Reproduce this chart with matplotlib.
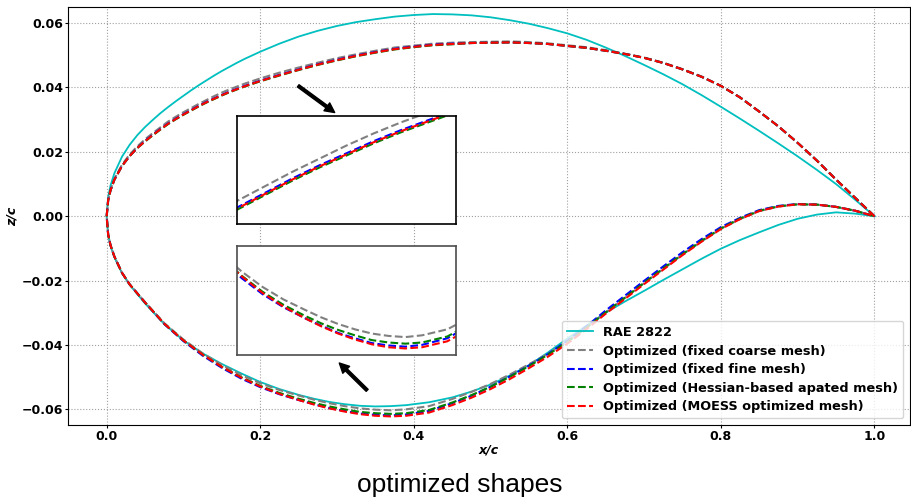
import numpy as np
import matplotlib.pyplot as plt

# chord stations (upper / lower surface)
x_upper = [0.0, 0.002, 0.005, 0.01, 0.02, 0.03, 0.04, 0.05, 0.06, 0.07, 0.08, 0.09,
           0.10, 0.11, 0.12, 0.13, 0.14, 0.15, 0.16, 0.17, 0.18, 0.19, 0.20,
           0.225, 0.25, 0.275, 0.30, 0.325, 0.35, 0.375, 0.40, 0.425, 0.45, 0.475,
           0.50, 0.525, 0.55, 0.575, 0.60, 0.625, 0.65, 0.675, 0.70, 0.725, 0.75,
           0.775, 0.80, 0.825, 0.85, 0.875, 0.90, 0.925, 0.95, 0.975, 1.0]
x_lower = [0.0, 0.002, 0.005, 0.01, 0.02, 0.03, 0.05, 0.075, 0.10, 0.125, 0.15,
           0.175, 0.20, 0.225, 0.25, 0.27, 0.29, 0.31, 0.33, 0.35, 0.37, 0.39,
           0.42, 0.45, 0.475, 0.50, 0.525, 0.55, 0.575, 0.60, 0.625, 0.65, 0.675,
           0.70, 0.725, 0.75, 0.775, 0.80, 0.825, 0.85, 0.875, 0.90, 0.925, 0.95,
           0.975, 1.0]

# RAE 2822
rae_upper = [0.0, 0.0060, 0.0095, 0.0133, 0.0185, 0.0222, 0.0252, 0.0277, 0.0299,
             0.0320, 0.0339, 0.0357, 0.0374, 0.0391, 0.0407, 0.0422, 0.0437, 0.0451,
             0.0464, 0.0477, 0.0489, 0.0500, 0.0511,
             0.0536, 0.0558, 0.0576, 0.0591, 0.0603, 0.0612, 0.0620, 0.0625, 0.0628,
             0.0627, 0.0624, 0.0618, 0.0609, 0.0598, 0.0584, 0.0568, 0.0548, 0.0524,
             0.0498, 0.0470, 0.0441, 0.0410, 0.0376, 0.0340, 0.0303, 0.0265, 0.0226,
             0.0186, 0.0144, 0.0100, 0.0051, 0.0]
rae_lower = [0.0, -0.0058, -0.0092, -0.0127, -0.0177, -0.0213, -0.0271, -0.0335,
             -0.0386, -0.0426, -0.0459, -0.0488, -0.0515, -0.0537, -0.0555, -0.0567,
             -0.0577, -0.0584, -0.0589, -0.0591, -0.0590, -0.0587, -0.0578, -0.0563,
             -0.0545, -0.0523, -0.0495, -0.0463, -0.0423, -0.0380, -0.0340, -0.0300,
             -0.0265, -0.0232, -0.0198, -0.0165, -0.0132, -0.0101, -0.0074, -0.0050,
             -0.0027, -0.0008, 0.0005, 0.0012, 0.0008, 0.0]

# optimized (fixed coarse mesh)
coarse_upper = [0.0, 0.0051, 0.0082, 0.0116, 0.0160, 0.0192, 0.0217, 0.0239, 0.0258,
                0.0276, 0.0294, 0.0309, 0.0323, 0.0336, 0.0349, 0.0361, 0.0373, 0.0384,
                0.0394, 0.0403, 0.0412, 0.0420, 0.0428,
                0.0446, 0.0462, 0.0477, 0.0491, 0.0503, 0.0514, 0.0524, 0.0530, 0.0536,
                0.0539, 0.0541, 0.0542, 0.0543, 0.0541, 0.0537, 0.0531, 0.0525, 0.0516,
                0.0505, 0.0493, 0.0477, 0.0457, 0.0434, 0.0405, 0.0369, 0.0325, 0.0279,
                0.0228, 0.0173, 0.0114, 0.0057, 0.0]
coarse_lower = [0.0, -0.0058, -0.0090, -0.0125, -0.0176, -0.0212, -0.0267, -0.0332,
                -0.0383, -0.0426, -0.0462, -0.0493, -0.0519, -0.0540, -0.0557, -0.0570,
                -0.0581, -0.0590, -0.0597, -0.0601, -0.0603, -0.0600, -0.0590, -0.0568,
                -0.0546, -0.0521, -0.0492, -0.0460, -0.0427, -0.0389, -0.0346, -0.0299,
                -0.0254, -0.0208, -0.0164, -0.0119, -0.0078, -0.0039, -0.0009, 0.0016,
                0.0030, 0.0037, 0.0036, 0.0029, 0.0017, 0.0]

# optimized (fixed fine mesh)
fine_upper = [0.0, 0.0050, 0.0080, 0.0113, 0.0156, 0.0187, 0.0212, 0.0234, 0.0253,
              0.0271, 0.0288, 0.0303, 0.0317, 0.0330, 0.0343, 0.0355, 0.0366, 0.0377,
              0.0387, 0.0396, 0.0405, 0.0413, 0.0421,
              0.0439, 0.0456, 0.0472, 0.0486, 0.0499, 0.0510, 0.0520, 0.0527, 0.0533,
              0.0536, 0.0538, 0.0539, 0.0540, 0.0538, 0.0535, 0.0529, 0.0523, 0.0514,
              0.0504, 0.0492, 0.0476, 0.0456, 0.0433, 0.0405, 0.0369, 0.0325, 0.0279,
              0.0228, 0.0173, 0.0114, 0.0057, 0.0]
fine_lower = [0.0, -0.0058, -0.0090, -0.0125, -0.0176, -0.0212, -0.0268, -0.0335,
              -0.0388, -0.0433, -0.0471, -0.0504, -0.0531, -0.0553, -0.0571, -0.0584,
              -0.0596, -0.0605, -0.0613, -0.0617, -0.0619, -0.0616, -0.0605, -0.0581,
              -0.0558, -0.0530, -0.0498, -0.0464, -0.0428, -0.0387, -0.0342, -0.0293,
              -0.0247, -0.0201, -0.0156, -0.0112, -0.0071, -0.0034, -0.0005, 0.0019,
              0.0032, 0.0038, 0.0036, 0.0029, 0.0017, 0.0]

# optimized (Hessian-based adapted mesh)
hess_upper = [0.0, 0.0050, 0.0080, 0.0113, 0.0156, 0.0187, 0.0212, 0.0232, 0.0251,
              0.0269, 0.0286, 0.0301, 0.0315, 0.0328, 0.0341, 0.0353, 0.0364, 0.0375,
              0.0385, 0.0394, 0.0403, 0.0411, 0.0419,
              0.0437, 0.0454, 0.0470, 0.0484, 0.0497, 0.0508, 0.0518, 0.0525, 0.0531,
              0.0534, 0.0538, 0.0539, 0.0540, 0.0538, 0.0535, 0.0529, 0.0523, 0.0514,
              0.0504, 0.0492, 0.0476, 0.0456, 0.0433, 0.0405, 0.0369, 0.0325, 0.0279,
              0.0228, 0.0173, 0.0114, 0.0057, 0.0]
hess_lower = [0.0, -0.0058, -0.0090, -0.0125, -0.0176, -0.0212, -0.0268, -0.0334,
              -0.0386, -0.0430, -0.0468, -0.0500, -0.0527, -0.0549, -0.0567, -0.0580,
              -0.0591, -0.0600, -0.0608, -0.0612, -0.0614, -0.0612, -0.0602, -0.0579,
              -0.0556, -0.0530, -0.0499, -0.0466, -0.0430, -0.0391, -0.0346, -0.0299,
              -0.0253, -0.0207, -0.0162, -0.0118, -0.0076, -0.0038, -0.0007, 0.0017,
              0.0031, 0.0037, 0.0036, 0.0029, 0.0017, 0.0]

# optimized (MOESS optimized mesh)
moess_upper = [0.0, 0.0050, 0.0080, 0.0113, 0.0156, 0.0187, 0.0212, 0.0233, 0.0252,
               0.0270, 0.0287, 0.0302, 0.0316, 0.0329, 0.0342, 0.0354, 0.0365, 0.0376,
               0.0386, 0.0395, 0.0404, 0.0412, 0.0420,
               0.0438, 0.0455, 0.0471, 0.0485, 0.0498, 0.0509, 0.0519, 0.0526, 0.0532,
               0.0535, 0.0538, 0.0539, 0.0540, 0.0538, 0.0535, 0.0529, 0.0523, 0.0514,
               0.0504, 0.0492, 0.0476, 0.0456, 0.0433, 0.0405, 0.0369, 0.0325, 0.0279,
               0.0228, 0.0173, 0.0114, 0.0057, 0.0]
moess_lower = [0.0, -0.0058, -0.0090, -0.0125, -0.0176, -0.0212, -0.0268, -0.0334,
               -0.0386, -0.0430, -0.0468, -0.0501, -0.0529, -0.0552, -0.0571, -0.0585,
               -0.0597, -0.0607, -0.0615, -0.0620, -0.0622, -0.0620, -0.0610, -0.0587,
               -0.0564, -0.0537, -0.0506, -0.0472, -0.0436, -0.0396, -0.0351, -0.0303,
               -0.0257, -0.0211, -0.0166, -0.0121, -0.0079, -0.0040, -0.0009, 0.0016,
               0.0030, 0.0037, 0.0036, 0.0029, 0.0017, 0.0]


def contour(yu, yl):
    # trailing edge -> upper -> leading edge -> lower -> trailing edge
    x = np.concatenate([np.array(x_upper)[::-1], np.array(x_lower)[1:]])
    y = np.concatenate([np.array(yu)[::-1], np.array(yl)[1:]])
    return x, y


optimized = [
    ("Optimized (fixed coarse mesh)", "gray", coarse_upper, coarse_lower),
    ("Optimized (fixed fine mesh)", "b", fine_upper, fine_lower),
    ("Optimized (Hessian-based apated mesh)", "g", hess_upper, hess_lower),
    ("Optimized (MOESS optimized mesh)", "r", moess_upper, moess_lower),
]

fig = plt.figure(figsize=(9.11, 4.98), dpi=100)
ax = fig.add_axes([0.0746, 0.147, 0.924, 0.839])

x, y = contour(rae_upper, rae_lower)
ax.plot(x, y, color="c", lw=1.3, label="RAE 2822")
for label, color, yu, yl in optimized:
    x, y = contour(yu, yl)
    ax.plot(x, y, color=color, ls="--", lw=1.5, label=label)

ax.set_xlim(-0.0504, 1.046)
ax.set_ylim(-0.0648, 0.065)
ax.set_xticks([0.0, 0.2, 0.4, 0.6, 0.8, 1.0])
ax.set_yticks([-0.06, -0.04, -0.02, 0.0, 0.02, 0.04, 0.06])
ax.tick_params(labelsize=9, length=2, pad=1.5)
for t in ax.get_xticklabels() + ax.get_yticklabels():
    t.set_fontweight("bold")
ax.grid(True, ls=":", color="#a0a0a0", lw=0.8)
ax.set_xlabel("x/c", fontsize=9, fontweight="bold", fontstyle="italic", labelpad=0.5)
ax.set_ylabel("z/c", fontsize=9, fontweight="bold", fontstyle="italic", labelpad=2)
ax.legend(loc="lower right", prop={"weight": "bold", "size": 9.3}, labelspacing=0.43)

# arrows pointing to the zoomed views
arrow = dict(facecolor="black", edgecolor="black", width=2, headwidth=7,
             headlength=7, shrink=0)
ax.annotate("", xy=(0.297, 0.0322), xytext=(0.2495, 0.0405), arrowprops=arrow)
ax.annotate("", xy=(0.303, -0.0456), xytext=(0.3393, -0.0541), arrowprops=arrow)

# zoomed views
ins_top = fig.add_axes([0.2605, 0.5502, 0.2397, 0.2175])
ins_bot = fig.add_axes([0.2605, 0.2871, 0.2397, 0.2195])
for ins, lims, edge in [(ins_top, (0.10, 0.18, 0.0302, 0.0400), "black"),
                        (ins_bot, (0.17, 0.43, -0.0633, -0.0450), "0.3")]:
    for label, color, yu, yl in optimized:
        x, y = contour(yu, yl)
        ins.plot(x, y, color=color, ls="--", lw=1.5)
    ins.set_xlim(lims[0], lims[1])
    ins.set_ylim(lims[2], lims[3])
    ins.set_xticks([])
    ins.set_yticks([])
    for s in ins.spines.values():
        s.set_color(edge)
        s.set_linewidth(1.2)

fig.text(0.505, 0.026, "optimized shapes", ha="center", va="center",
         fontsize=19, family="Liberation Sans")

fig.savefig("out.png", dpi=100)
